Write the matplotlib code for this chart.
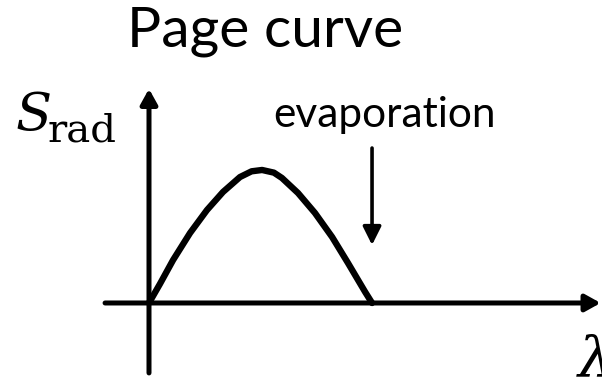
import matplotlib
matplotlib.use("Agg")
import matplotlib.pyplot as plt

plt.rcParams['mathtext.fontset'] = 'dejavuserif'

# Page curve (lambda scaled so the curve ends at 1, S scaled so the peak is 1)
lam = [0.0, 0.049, 0.108, 0.184, 0.260, 0.332, 0.408, 0.460, 0.507,
       0.560, 0.596, 0.668, 0.744, 0.821, 0.892, 0.969, 1.0]
s_rad = [0.0, 0.143, 0.323, 0.526, 0.699, 0.835, 0.947, 0.990, 1.0,
         0.980, 0.940, 0.827, 0.677, 0.496, 0.301, 0.083, 0.0]

title = "Page curve"
note = "evaporation"
ylab = r"$S$"
ylab_sub = "rad"
xlab = r"$\lambda$"

fig = plt.figure(figsize=(6.02, 3.78), dpi=100)
ax = fig.add_axes([0, 0, 1, 1])
ax.set_xlim(-0.668, 2.031)
ax.set_ylim(-0.564, 2.278)
ax.axis('off')

# axes with arrows
ax.annotate('', xy=(2.025, 0), xytext=(-0.197, 0),
            arrowprops=dict(arrowstyle='-|>,head_length=0.9,head_width=0.5',
                            lw=3.6, color='black', shrinkA=0, shrinkB=0))
ax.annotate('', xy=(0, 1.61), xytext=(0, -0.526),
            arrowprops=dict(arrowstyle='-|>,head_length=0.9,head_width=0.5',
                            lw=3.6, color='black', shrinkA=0, shrinkB=0))

ax.plot(lam, s_rad, color='black', lw=4.6, solid_capstyle='round', solid_joinstyle='round')

# evaporation arrow
ax.annotate('', xy=(lam[-1], 0.436), xytext=(lam[-1], 1.165),
            arrowprops=dict(arrowstyle='-|>,head_length=1.1,head_width=0.55',
                            lw=2.6, color='black', shrinkA=0, shrinkB=0))

ax.text(1.054, 1.323, note, fontsize=30.5, family='Lato', ha='center', va='baseline')
ax.text(0.52, 1.925, title, fontsize=41, family='Lato', ha='center', va='baseline')
ax.text(-0.60, 1.30, ylab, fontsize=38, ha='left', va='baseline')
ax.text(-0.453, 1.211, ylab_sub, fontsize=29, family='DejaVu Serif', ha='left', va='baseline')
ax.text(1.915, -0.56, xlab, fontsize=40, ha='left', va='baseline')

fig.savefig('out.png', dpi=100)
